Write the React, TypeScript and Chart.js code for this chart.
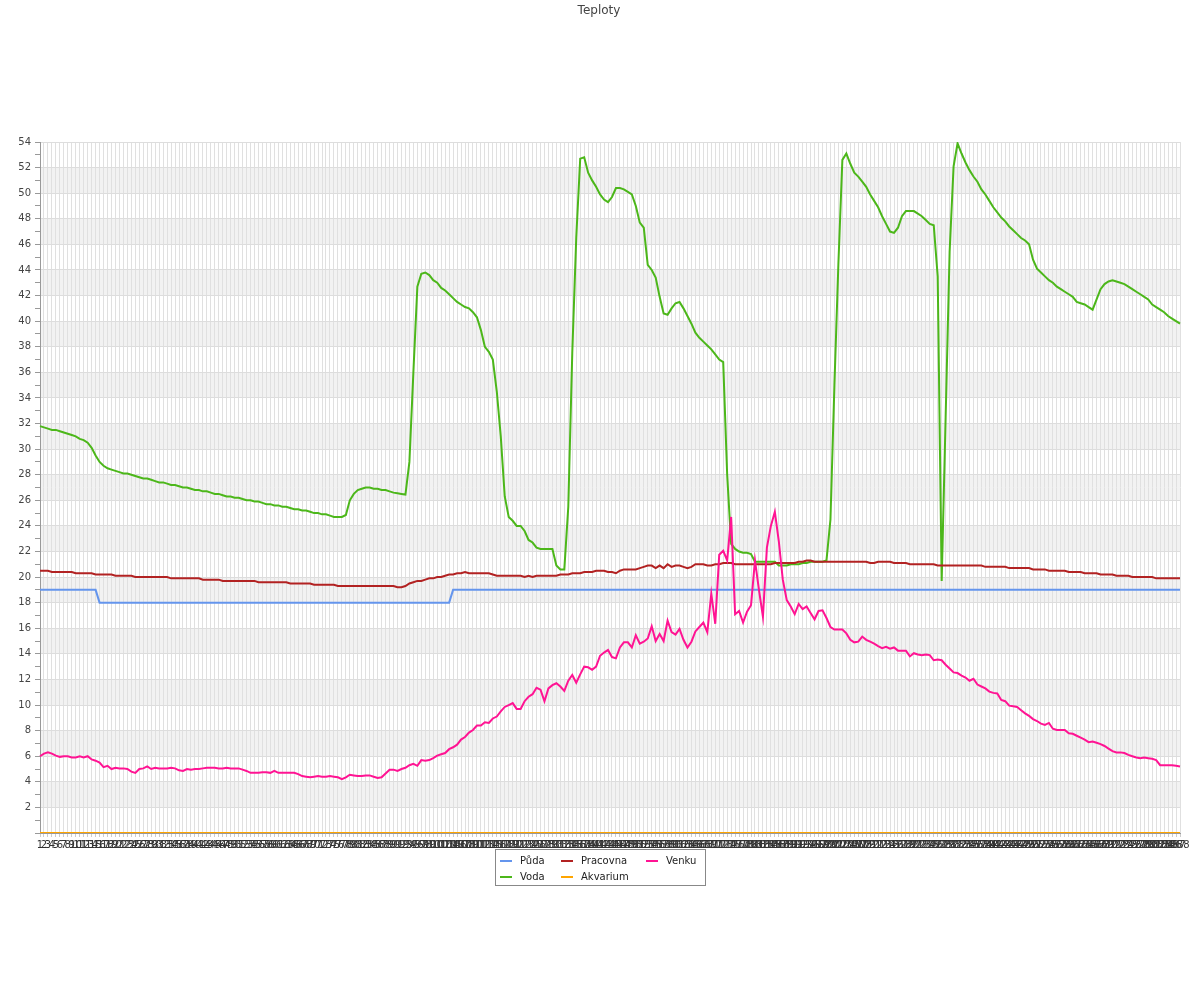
import React, { useEffect, useRef } from 'react';
import { Chart, registerables } from 'chart.js';

Chart.register(...registerables);

const TITLE = 'Teploty';
const CATEGORY_COUNT = 288;
const categories = Array.from({ length: CATEGORY_COUNT }, (_, i) => String(i + 1));

const seriesNames = ['Půda', 'Voda', 'Pracovna', 'Akvarium', 'Venku'];
const seriesColors = ['#6495ed', '#4cb71a', '#b22222', '#ffa500', '#ff1493'];

const pudaValues = [
  19, 19, 19, 19, 19, 19, 19, 19, 19, 19,
  19, 19, 19, 19, 19, 18, 18, 18, 18, 18,
  18, 18, 18, 18, 18, 18, 18, 18, 18, 18,
  18, 18, 18, 18, 18, 18, 18, 18, 18, 18,
  18, 18, 18, 18, 18, 18, 18, 18, 18, 18,
  18, 18, 18, 18, 18, 18, 18, 18, 18, 18,
  18, 18, 18, 18, 18, 18, 18, 18, 18, 18,
  18, 18, 18, 18, 18, 18, 18, 18, 18, 18,
  18, 18, 18, 18, 18, 18, 18, 18, 18, 18,
  18, 18, 18, 18, 18, 18, 18, 18, 18, 18,
  18, 18, 18, 18, 19, 19, 19, 19, 19, 19,
  19, 19, 19, 19, 19, 19, 19, 19, 19, 19,
  19, 19, 19, 19, 19, 19, 19, 19, 19, 19,
  19, 19, 19, 19, 19, 19, 19, 19, 19, 19,
  19, 19, 19, 19, 19, 19, 19, 19, 19, 19,
  19, 19, 19, 19, 19, 19, 19, 19, 19, 19,
  19, 19, 19, 19, 19, 19, 19, 19, 19, 19,
  19, 19, 19, 19, 19, 19, 19, 19, 19, 19,
  19, 19, 19, 19, 19, 19, 19, 19, 19, 19,
  19, 19, 19, 19, 19, 19, 19, 19, 19, 19,
  19, 19, 19, 19, 19, 19, 19, 19, 19, 19,
  19, 19, 19, 19, 19, 19, 19, 19, 19, 19,
  19, 19, 19, 19, 19, 19, 19, 19, 19, 19,
  19, 19, 19, 19, 19, 19, 19, 19, 19, 19,
  19, 19, 19, 19, 19, 19, 19, 19, 19, 19,
  19, 19, 19, 19, 19, 19, 19, 19, 19, 19,
  19, 19, 19, 19, 19, 19, 19, 19, 19, 19,
  19, 19, 19, 19, 19, 19, 19, 19, 19, 19,
  19, 19, 19, 19, 19, 19, 19, 19,
];

const vodaValues = [
  31.8, 31.7, 31.6, 31.5, 31.5, 31.4, 31.3, 31.2, 31.1, 31.0,
  30.8, 30.7, 30.5, 30.1, 29.5, 29.0, 28.7, 28.5, 28.4, 28.3,
  28.2, 28.1, 28.1, 28.0, 27.9, 27.8, 27.7, 27.7, 27.6, 27.5,
  27.4, 27.4, 27.3, 27.2, 27.2, 27.1, 27.0, 27.0, 26.9, 26.8,
  26.8, 26.7, 26.7, 26.6, 26.5, 26.5, 26.4, 26.3, 26.3, 26.2,
  26.2, 26.1, 26.0, 26.0, 25.9, 25.9, 25.8, 25.7, 25.7, 25.6,
  25.6, 25.5, 25.5, 25.4, 25.3, 25.3, 25.2, 25.2, 25.1, 25.0,
  25.0, 24.9, 24.9, 24.8, 24.7, 24.7, 24.7, 24.85, 26.0, 26.5,
  26.8, 26.9, 27.0, 27.0, 26.9, 26.9, 26.8, 26.8, 26.7, 26.6,
  26.55, 26.5, 26.45, 29.0, 36.0, 42.7, 43.7, 43.8, 43.6, 43.2,
  43.0, 42.6, 42.4, 42.1, 41.8, 41.5, 41.3, 41.1, 41.0, 40.7,
  40.3, 39.3, 38.0, 37.6, 37.0, 34.5, 31.0, 26.3, 24.7, 24.4,
  24.0, 24.0, 23.6, 22.9, 22.7, 22.3, 22.2, 22.2, 22.2, 22.2,
  20.9, 20.6, 20.6, 25.5, 37.5, 46.5, 52.7, 52.8, 51.6, 51.0,
  50.5, 49.9, 49.5, 49.3, 49.7, 50.4, 50.4, 50.3, 50.1, 49.9,
  49.0, 47.7, 47.3, 44.4, 44.0, 43.4, 41.9, 40.6, 40.5, 41.0,
  41.4, 41.5, 41.0, 40.4, 39.8, 39.1, 38.7, 38.4, 38.1, 37.8,
  37.4, 37.0, 36.8, 28.0, 22.6, 22.2, 22.0, 21.9, 21.9, 21.8,
  21.2, 21.2, 21.2, 21.2, 21.2, 21.2, 20.9, 20.9, 20.9, 21.0,
  21.0, 21.0, 21.1, 21.1, 21.2, 21.2, 21.2, 21.2, 21.3, 24.5,
  35.0, 44.5, 52.6, 53.1, 52.3, 51.6, 51.3, 50.9, 50.5, 49.9,
  49.4, 48.9, 48.2, 47.6, 47.0, 46.9, 47.3, 48.2, 48.6, 48.6,
  48.6, 48.4, 48.2, 47.9, 47.6, 47.5, 43.5, 19.7, 32.5, 45.4,
  52.1, 53.9, 53.1, 52.4, 51.8, 51.3, 50.9, 50.3, 49.9, 49.4,
  48.9, 48.5, 48.1, 47.8, 47.4, 47.1, 46.8, 46.5, 46.3, 46.0,
  44.8, 44.1, 43.8, 43.5, 43.2, 43.0, 42.7, 42.5, 42.3, 42.1,
  41.9, 41.5, 41.4, 41.3, 41.1, 40.9, 41.7, 42.5, 42.9, 43.1,
  43.2, 43.1, 43.0, 42.9, 42.7, 42.5, 42.3, 42.1, 41.9, 41.7,
  41.3, 41.1, 40.9, 40.7, 40.4, 40.2, 40.0, 39.8,
];

const pracovnaValues = [
  20.5, 20.5, 20.5, 20.4, 20.4, 20.4, 20.4, 20.4, 20.4, 20.3,
  20.3, 20.3, 20.3, 20.3, 20.2, 20.2, 20.2, 20.2, 20.2, 20.1,
  20.1, 20.1, 20.1, 20.1, 20.0, 20.0, 20.0, 20.0, 20.0, 20.0,
  20.0, 20.0, 20.0, 19.9, 19.9, 19.9, 19.9, 19.9, 19.9, 19.9,
  19.9, 19.8, 19.8, 19.8, 19.8, 19.8, 19.7, 19.7, 19.7, 19.7,
  19.7, 19.7, 19.7, 19.7, 19.7, 19.6, 19.6, 19.6, 19.6, 19.6,
  19.6, 19.6, 19.6, 19.5, 19.5, 19.5, 19.5, 19.5, 19.5, 19.4,
  19.4, 19.4, 19.4, 19.4, 19.4, 19.3, 19.3, 19.3, 19.3, 19.3,
  19.3, 19.3, 19.3, 19.3, 19.3, 19.3, 19.3, 19.3, 19.3, 19.3,
  19.2, 19.2, 19.3, 19.5, 19.6, 19.7, 19.7, 19.8, 19.9, 19.9,
  20.0, 20.0, 20.1, 20.2, 20.2, 20.3, 20.3, 20.4, 20.3, 20.3,
  20.3, 20.3, 20.3, 20.3, 20.2, 20.1, 20.1, 20.1, 20.1, 20.1,
  20.1, 20.1, 20.0, 20.1, 20.0, 20.1, 20.1, 20.1, 20.1, 20.1,
  20.1, 20.2, 20.2, 20.2, 20.3, 20.3, 20.3, 20.4, 20.4, 20.4,
  20.5, 20.5, 20.5, 20.4, 20.4, 20.3, 20.5, 20.6, 20.6, 20.6,
  20.6, 20.7, 20.8, 20.9, 20.9, 20.7, 20.9, 20.7, 21.0, 20.8,
  20.9, 20.9, 20.8, 20.7, 20.8, 21.0, 21.0, 21.0, 20.9, 20.9,
  21.0, 21.0, 21.1, 21.1, 21.1, 21.0, 21.0, 21.0, 21.0, 21.0,
  21.0, 21.0, 21.0, 21.0, 21.0, 21.1, 21.1, 21.1, 21.1, 21.1,
  21.1, 21.2, 21.2, 21.3, 21.3, 21.2, 21.2, 21.2, 21.2, 21.2,
  21.2, 21.2, 21.2, 21.2, 21.2, 21.2, 21.2, 21.2, 21.2, 21.1,
  21.1, 21.2, 21.2, 21.2, 21.2, 21.1, 21.1, 21.1, 21.1, 21.0,
  21.0, 21.0, 21.0, 21.0, 21.0, 21.0, 20.9, 20.9, 20.9, 20.9,
  20.9, 20.9, 20.9, 20.9, 20.9, 20.9, 20.9, 20.9, 20.8, 20.8,
  20.8, 20.8, 20.8, 20.8, 20.7, 20.7, 20.7, 20.7, 20.7, 20.7,
  20.6, 20.6, 20.6, 20.6, 20.5, 20.5, 20.5, 20.5, 20.5, 20.4,
  20.4, 20.4, 20.4, 20.3, 20.3, 20.3, 20.3, 20.2, 20.2, 20.2,
  20.2, 20.1, 20.1, 20.1, 20.1, 20.0, 20.0, 20.0, 20.0, 20.0,
  20.0, 19.9, 19.9, 19.9, 19.9, 19.9, 19.9, 19.9,
];

const akvariumValues = [
  0, 0, 0, 0, 0, 0, 0, 0, 0, 0,
  0, 0, 0, 0, 0, 0, 0, 0, 0, 0,
  0, 0, 0, 0, 0, 0, 0, 0, 0, 0,
  0, 0, 0, 0, 0, 0, 0, 0, 0, 0,
  0, 0, 0, 0, 0, 0, 0, 0, 0, 0,
  0, 0, 0, 0, 0, 0, 0, 0, 0, 0,
  0, 0, 0, 0, 0, 0, 0, 0, 0, 0,
  0, 0, 0, 0, 0, 0, 0, 0, 0, 0,
  0, 0, 0, 0, 0, 0, 0, 0, 0, 0,
  0, 0, 0, 0, 0, 0, 0, 0, 0, 0,
  0, 0, 0, 0, 0, 0, 0, 0, 0, 0,
  0, 0, 0, 0, 0, 0, 0, 0, 0, 0,
  0, 0, 0, 0, 0, 0, 0, 0, 0, 0,
  0, 0, 0, 0, 0, 0, 0, 0, 0, 0,
  0, 0, 0, 0, 0, 0, 0, 0, 0, 0,
  0, 0, 0, 0, 0, 0, 0, 0, 0, 0,
  0, 0, 0, 0, 0, 0, 0, 0, 0, 0,
  0, 0, 0, 0, 0, 0, 0, 0, 0, 0,
  0, 0, 0, 0, 0, 0, 0, 0, 0, 0,
  0, 0, 0, 0, 0, 0, 0, 0, 0, 0,
  0, 0, 0, 0, 0, 0, 0, 0, 0, 0,
  0, 0, 0, 0, 0, 0, 0, 0, 0, 0,
  0, 0, 0, 0, 0, 0, 0, 0, 0, 0,
  0, 0, 0, 0, 0, 0, 0, 0, 0, 0,
  0, 0, 0, 0, 0, 0, 0, 0, 0, 0,
  0, 0, 0, 0, 0, 0, 0, 0, 0, 0,
  0, 0, 0, 0, 0, 0, 0, 0, 0, 0,
  0, 0, 0, 0, 0, 0, 0, 0, 0, 0,
  0, 0, 0, 0, 0, 0, 0, 0,
];

const venkuValues = [
  6.0, 6.2, 6.3, 6.2, 6.05, 5.95, 6.0, 6.0, 5.9, 5.9,
  6.0, 5.9, 6.0, 5.75, 5.65, 5.5, 5.15, 5.25, 5.0, 5.1,
  5.05, 5.05, 5.0, 4.8, 4.7, 5.0, 5.05, 5.2, 5.0, 5.1,
  5.05, 5.05, 5.05, 5.1, 5.05, 4.9, 4.85, 5.0, 4.95, 5.0,
  5.0, 5.05, 5.1, 5.1, 5.1, 5.05, 5.05, 5.1, 5.05, 5.05,
  5.05, 4.95, 4.85, 4.7, 4.7, 4.7, 4.75, 4.75, 4.7, 4.85,
  4.7, 4.7, 4.7, 4.7, 4.7, 4.6, 4.45, 4.4, 4.35, 4.4,
  4.45, 4.4, 4.4, 4.45, 4.4, 4.35, 4.2, 4.35, 4.55, 4.5,
  4.45, 4.45, 4.5, 4.5, 4.4, 4.3, 4.35, 4.65, 4.95, 4.95,
  4.85, 5.0, 5.1, 5.3, 5.4, 5.25, 5.7, 5.65, 5.7, 5.85,
  6.05, 6.15, 6.25, 6.55, 6.7, 6.9, 7.3, 7.5, 7.85, 8.05,
  8.4, 8.4, 8.65, 8.6, 8.95, 9.1, 9.5, 9.85, 10.0, 10.15,
  9.7, 9.7, 10.3, 10.65, 10.85, 11.35, 11.2, 10.3, 11.3, 11.55,
  11.7, 11.45, 11.1, 11.9, 12.35, 11.75, 12.4, 13.0, 12.95, 12.75,
  13.0, 13.85, 14.1, 14.3, 13.75, 13.65, 14.5, 14.9, 14.9, 14.5,
  15.45, 14.8, 14.95, 15.2, 16.15, 15.0, 15.55, 15.0, 16.6, 15.7,
  15.5, 15.95, 15.1, 14.5, 14.95, 15.75, 16.1, 16.45, 15.7, 18.7,
  16.35, 21.75, 22.05, 21.3, 24.7, 17.1, 17.35, 16.45, 17.3, 17.8,
  21.3, 19.0, 16.9, 22.3, 24.0, 25.1, 22.8, 19.8, 18.2, 17.7,
  17.1, 17.9, 17.5, 17.7, 17.2, 16.7, 17.35, 17.4, 16.8, 16.1,
  15.9, 15.9, 15.9, 15.6, 15.1, 14.9, 14.95, 15.35, 15.1, 14.95,
  14.8, 14.6, 14.45, 14.55, 14.4, 14.5, 14.25, 14.25, 14.25, 13.8,
  14.05, 13.95, 13.9, 13.95, 13.9, 13.5, 13.55, 13.5, 13.15, 12.85,
  12.55, 12.5, 12.3, 12.15, 11.9, 12.05, 11.6, 11.45, 11.3, 11.05,
  10.95, 10.9, 10.4, 10.3, 9.95, 9.9, 9.85, 9.6, 9.35, 9.15,
  8.9, 8.75, 8.55, 8.45, 8.6, 8.15, 8.05, 8.05, 8.05, 7.8,
  7.75, 7.6, 7.45, 7.3, 7.1, 7.15, 7.05, 6.95, 6.8, 6.6,
  6.4, 6.3, 6.3, 6.25, 6.1, 6.0, 5.9, 5.85, 5.9, 5.85,
  5.8, 5.7, 5.3, 5.3, 5.3, 5.3, 5.25, 5.2,
];

const seriesValues = [pudaValues, vodaValues, pracovnaValues, akvariumValues, venkuValues];

const Y_MIN = 0;
const Y_MAX = 54;
const shadedBands = [
  [2, 4], [6, 8], [10, 12], [14, 16], [18, 20], [22, 24], [26, 28],
  [30, 32], [34, 36], [38, 40], [42, 44], [46, 48], [50, 52],
];

// legend layout: column-major, 2 rows
const legendColumns = [[0, 1], [2, 3], [4]];

const FONT = '"DejaVu Sans", Verdana, sans-serif';

const decorPlugin = {
  id: 'decor',
  beforeDraw(chart: any) {
    const { ctx, chartArea, scales } = chart;
    const y = scales.y;
    ctx.save();
    ctx.fillStyle = '#f2f2f2';
    for (const [lo, hi] of shadedBands) {
      const top = y.getPixelForValue(hi);
      const bot = y.getPixelForValue(lo);
      ctx.fillRect(chartArea.left, top, chartArea.right - chartArea.left, bot - top);
    }
    ctx.restore();
  },
  afterDraw(chart: any) {
    const { ctx } = chart;
    ctx.save();
    // title
    ctx.font = `12px ${FONT}`;
    ctx.fillStyle = '#444';
    ctx.textAlign = 'center';
    ctx.textBaseline = 'middle';
    ctx.fillText(TITLE, 599, 11);

    // legend box
    const bx = 495.5, by = 849.5, bw = 210, bh = 36;
    ctx.fillStyle = '#ffffff';
    ctx.fillRect(bx, by, bw, bh);
    ctx.strokeStyle = '#888';
    ctx.lineWidth = 1;
    ctx.strokeRect(bx, by, bw, bh);
    const colText = [520, 581, 666];
    const rowY = [861, 877];
    ctx.font = `10px ${FONT}`;
    ctx.textAlign = 'left';
    legendColumns.forEach((col, ci) => {
      col.forEach((si, ri) => {
        const tx = colText[ci];
        const ty = rowY[ri];
        ctx.strokeStyle = seriesColors[si];
        ctx.lineWidth = 2;
        ctx.beginPath();
        ctx.moveTo(tx - 20, ty);
        ctx.lineTo(tx - 8, ty);
        ctx.stroke();
        ctx.fillStyle = '#222';
        ctx.fillText(seriesNames[si], tx, ty);
      });
    });
    ctx.restore();
  },
};

export default function App() {
  const ref = useRef<HTMLCanvasElement | null>(null);
  useEffect(() => {
    if (!ref.current) return;
    const chart = new Chart(ref.current, {
      type: 'line',
      data: {
        labels: categories,
        datasets: seriesNames.map((name, i) => ({
          label: name,
          data: seriesValues[i],
          borderColor: seriesColors[i],
          backgroundColor: seriesColors[i],
          borderWidth: 2,
          pointRadius: 0,
          pointHoverRadius: 0,
          tension: 0,
          fill: false,
          order: seriesNames.length - 1 - i,
        })),
      },
      options: {
        responsive: false,
        animation: false,
        events: [],
        layout: { padding: { top: 142, right: 20, left: 0, bottom: 0 } },
        plugins: {
          legend: { display: false },
          title: { display: false },
          tooltip: { enabled: false },
        },
        scales: {
          x: {
            type: 'category',
            offset: false,
            afterFit: (s: any) => { s.height = 167; },
            grid: {
              display: true,
              color: '#e0e0e0',
              lineWidth: 1,
              offset: false,
              drawTicks: true,
              tickLength: 4,
              tickColor: '#cccccc',
            },
            border: { display: true, color: '#999' },
            ticks: {
              autoSkip: false,
              maxRotation: 0,
              minRotation: 0,
              padding: 2,
              color: '#333',
              font: { family: FONT, size: 10 },
            },
          },
          y: {
            type: 'linear',
            min: Y_MIN,
            max: Y_MAX,
            afterFit: (s: any) => { s.width = 40; },
            grid: {
              color: (c: any) => (c.tick && c.tick.value % 2 === 0 ? '#dddddd' : 'rgba(0,0,0,0)'),
              tickColor: '#999',
              tickLength: 5,
              drawTicks: true,
            },
            border: { display: true, color: '#999' },
            ticks: {
              stepSize: 1,
              autoSkip: false,
              padding: 4,
              color: '#444',
              font: { family: FONT, size: 10 },
              callback: (v: any) => (Number(v) % 2 === 0 && Number(v) !== 0 ? String(v) : ''),
            },
          },
        },
      },
      plugins: [decorPlugin],
    });
    return () => chart.destroy();
  }, []);

  return (
    <div style={{ position: 'absolute', left: 0, top: 0, width: 1200, height: 1000, background: '#fff' }}>
      <canvas ref={ref} width={1200} height={1000} style={{ display: 'block', width: 1200, height: 1000 }} />
    </div>
  );
}
